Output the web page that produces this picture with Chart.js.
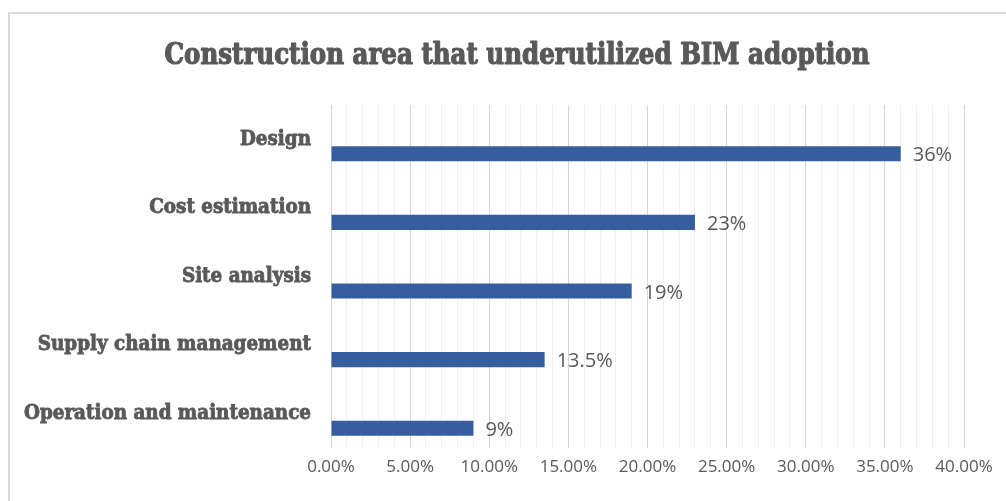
<!DOCTYPE html>
<html>
<head>
<meta charset="utf-8">
<title>Construction area that underutilized BIM adoption</title>
<script src="https://cdn.jsdelivr.net/npm/chart.js@4.4.1/dist/chart.umd.min.js"></script>
<style>
  html, body { margin: 0; padding: 0; background: #fff; overflow: hidden; }
  #frame {
    position: absolute; left: 8px; top: 12px; width: 1100px; height: 600px;
    border-top: 2px solid #d9d9d9; border-left: 2px solid #d9d9d9;
  }
  #grafico { position: absolute; left: 0; top: 0; }
</style>
</head>
<body>
<div id="frame"></div>
<canvas id="grafico" width="1006" height="501"></canvas>
<script>
// data
var categories = ["Design", "Cost estimation", "Site analysis", "Supply chain management", "Operation and maintenance"];
var shares = [36, 23, 19, 13.5, 9];          // percent
var spacer = [null, null, null, null, null]; // empty first series (pushes bars below the label line)
var tickMin = 0, tickMax = 40, tickMajor = 5, tickMinor = 1;
var titleText = 'Construction area that underutilized BIM adoption';

var labelGray = "#595959";
var slabFont = "'DejaVu Serif Condensed', 'DejaVu Serif', serif";
var plainFont = "'Open Sans', 'Liberation Sans', sans-serif";

// title, squeezed a bit to the width of the original
var titlePlugin = {
    id: 'titlePlugin',
    afterDraw: function (chart) {
        var ctx = chart.ctx;
        ctx.save();
        ctx.font = "bold 30px " + slabFont;
        ctx.fillStyle = labelGray;
        ctx.strokeStyle = labelGray;
        ctx.lineWidth = 1.2;
        ctx.lineJoin = 'round';
        ctx.textAlign = 'center';
        ctx.textBaseline = 'middle';
        var w = ctx.measureText(titleText).width;
        var sx = Math.min(1, 705 / w);
        ctx.translate(517, 56);
        ctx.scale(sx, 1);
        ctx.fillText(titleText, 0, 0);
        ctx.strokeText(titleText, 0, 0);
        ctx.restore();
    }
};

// value labels to the right of each bar
var valueLabels = {
    id: 'valueLabels',
    afterDatasetsDraw: function (chart) {
        var ctx = chart.ctx;
        var meta = chart.getDatasetMeta(1);
        ctx.save();
        ctx.font = "20px " + plainFont;
        ctx.fillStyle = labelGray;
        ctx.textAlign = 'left';
        ctx.textBaseline = 'middle';
        meta.data.forEach(function (bar, i) {
            ctx.fillText(shares[i] + '%', bar.x + 12, bar.y + 2);
        });
        ctx.restore();
    }
};

function grafBim() {
    var ctx = document.getElementById('grafico').getContext('2d');
    var myChart = new Chart(ctx, {
        type: 'bar',
        data: {
            labels: categories,
            datasets: [
                { label: 'spacer', data: spacer, backgroundColor: 'rgba(0,0,0,0)' },
                { label: 'Share', data: shares, backgroundColor: '#365e9f', borderWidth: 0 }
            ]
        },
        options: {
            indexAxis: 'y',
            responsive: false,
            animation: false,
            devicePixelRatio: 1,
            categoryPercentage: 0.845,
            barPercentage: 0.52,
            layout: { padding: { left: 0, right: 42, top: 105, bottom: 0 } },
            plugins: {
                legend: { display: false },
                tooltip: { enabled: false },
                title: { display: false }
            },
            scales: {
                x: {
                    min: tickMin,
                    max: tickMax,
                    afterFit: function (s) { s.height = 53; },
                    border: { display: false },
                    grid: {
                        drawTicks: false,
                        color: function (c) {
                            return c.tick && c.tick.value % tickMajor === 0 ? '#d6d6d6' : '#efefef';
                        }
                    },
                    ticks: {
                        stepSize: tickMinor,
                        autoSkip: false,
                        maxRotation: 0,
                        minRotation: 0,
                        padding: 9,
                        color: labelGray,
                        font: { family: plainFont, size: 17 },
                        callback: function (v) {
                            return v % tickMajor === 0 ? v.toFixed(2) + '%' : '';
                        }
                    }
                },
                y: {
                    afterFit: function (s) { s.width = 331; },
                    border: { display: false },
                    grid: { display: false, drawTicks: false },
                    ticks: {
                        padding: 20,
                        color: labelGray,
                        textStrokeColor: labelGray,
                        textStrokeWidth: 0.8,
                        font: { family: slabFont, size: 20.4, weight: 'bold' }
                    }
                }
            }
        },
        plugins: [valueLabels, titlePlugin]
    });
}

grafBim();
</script>
</body>
</html>
